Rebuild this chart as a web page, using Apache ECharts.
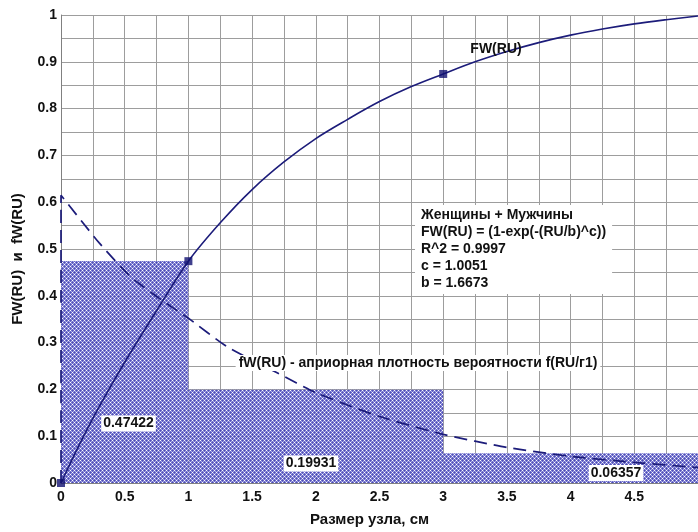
<!DOCTYPE html>
<html>
<head>
<meta charset="utf-8">
<script src="https://cdn.jsdelivr.net/npm/echarts@6/dist/echarts.min.js"></script>
<style>html,body{margin:0;padding:0;background:#fff}#c{width:698px;height:532px}</style>
</head>
<body>
<div id="c"></div>
<script>
// ---- data ----
const binStart  = [0, 1, 3];
const binEnd    = [1, 3, 5];
const binHeight = [0.47422, 0.19931, 0.06357];
const binLabels = ['0.47422', '0.19931', '0.06357'];

const fwX = [0, 0.15, 0.3, 0.5, 0.75, 1, 1.25, 1.5, 1.75, 2, 2.25, 2.5, 2.75, 3, 3.25, 3.5, 3.75, 4, 4.25, 4.5, 4.75, 5];
const fwY = [0, 0.085, 0.163, 0.258, 0.368, 0.474, 0.556, 0.627, 0.686, 0.736, 0.777, 0.815, 0.847, 0.874, 0.900, 0.922, 0.941, 0.957, 0.970, 0.981, 0.990, 0.998];

const fdX = [0, 0, 0.3, 0.55, 0.8, 1.0, 1.3, 1.7, 2.0, 2.5, 3.0, 3.5, 4.0, 4.5, 5.0];
const fdY = [0, 0.615, 0.513, 0.440, 0.389, 0.352, 0.292, 0.235, 0.193, 0.142, 0.104, 0.076, 0.057, 0.044, 0.033];

const markX = [0, 1, 3];
const markY = [0, 0.474, 0.874];

const xLabelTicks = [0, 0.5, 1, 1.5, 2, 2.5, 3, 3.5, 4, 4.5];
const yLabelTicks = [0, 0.1, 0.2, 0.3, 0.4, 0.5, 0.6, 0.7, 0.8, 0.9, 1];

// ---- hatch pattern ----
const tile = document.createElement('canvas');
tile.width = 4; tile.height = 4;
const tc = tile.getContext('2d');
for (let y = 0; y < 4; y++) for (let x = 0; x < 4; x++) {
  let c;
  if ((x === 0 && y === 0) || (x === 2 && y === 2)) c = '#ffffff';
  else if ((x === 2 && y === 0) || (x === 0 && y === 2)) c = '#3c3cae';
  else if ((x + y) % 2 === 1) c = '#5e5ec4';
  else c = '#a4a4e4';
  tc.fillStyle = c; tc.fillRect(x, y, 1, 1);
}
const hatch = { image: tile, repeat: 'repeat' };

const FONT = '"Liberation Sans", Arial, Helvetica, sans-serif';
const navy = '#1c1c7a';

const chart = echarts.init(document.getElementById('c'), null, { renderer: 'canvas' });

const binData = binStart.map((s, i) => [s, binEnd[i], binHeight[i]]);
const fwData = fwX.map((x, i) => [x, fwY[i]]);
const fdData = fdX.map((x, i) => [x, fdY[i]]);
const markData = markX.map((x, i) => [x, markY[i]]);

const gridStyle = { color: '#9d9d9d', width: 1 };

chart.setOption({
  animation: false,
  backgroundColor: '#fff',
  grid: { left: 61, top: 15, width: 640, height: 472, containLabel: false },
  xAxis: {
    type: 'value', min: 0, max: 5, interval: 0.5,
    name: 'Размер узла, см', nameLocation: 'middle', nameGap: 29,
    nameTextStyle: { fontFamily: FONT, fontWeight: 'bold', fontSize: 15, color: '#111', padding: [0, 20, 0, 0] },
    axisLine: { show: true, lineStyle: { color: '#808080', width: 1 } },
    axisTick: { show: false },
    axisLabel: {
      fontFamily: FONT, fontWeight: 'bold', fontSize: 14, color: '#111', margin: 7,
      showMaxLabel: false,
      formatter: v => (xLabelTicks.some(t => Math.abs(t - v) < 1e-9) ? String(+v.toFixed(2)) : '')
    },
    splitLine: { show: true, lineStyle: gridStyle },
    minorTick: { show: false, splitNumber: 2 },
    minorSplitLine: { show: true, lineStyle: gridStyle }
  },
  yAxis: {
    type: 'value', min: 0, max: 1, interval: 0.1,
    name: 'FW(RU)  и  fW(RU)', nameLocation: 'middle', nameGap: 36, nameRotate: 90,
    nameTextStyle: { fontFamily: FONT, fontWeight: 'bold', fontSize: 15, color: '#111', padding: [0, 20, 0, 0] },
    axisLine: { show: true, lineStyle: { color: '#808080', width: 1 } },
    axisTick: { show: false },
    axisLabel: {
      fontFamily: FONT, fontWeight: 'bold', fontSize: 14, color: '#111', margin: 4,
      formatter: v => (yLabelTicks.some(t => Math.abs(t - v) < 1e-9) ? String(+v.toFixed(2)) : '')
    },
    splitLine: { show: true, lineStyle: gridStyle },
    minorTick: { show: false, splitNumber: 2 },
    minorSplitLine: { show: true, lineStyle: gridStyle }
  },
  series: [
    {
      type: 'custom', name: 'hist', data: binData, clip: true,
      encode: { x: [0, 1], y: 2 },
      renderItem: (params, api) => {
        const p0 = api.coord([api.value(0), api.value(2)]);
        const p1 = api.coord([api.value(1), 0]);
        return {
          type: 'rect',
          shape: { x: p0[0], y: p0[1], width: p1[0] - p0[0], height: p1[1] - p0[1] },
          style: { fill: hatch, opacity: 0.9 }
        };
      },
      z: 1
    },
    {
      type: 'line', name: 'fW', data: fdData, smooth: 0.2, showSymbol: false, symbol: 'none',
      lineStyle: { color: navy, width: 1.7, type: [13, 7] }, z: 3
    },
    {
      type: 'line', name: 'FW', data: fwData, smooth: 0.35, showSymbol: false, symbol: 'none',
      lineStyle: { color: navy, width: 1.6 }, z: 4
    },
    {
      type: 'scatter', name: 'pts', data: markData, symbol: 'rect', symbolSize: 8,
      itemStyle: { color: '#101070' }, z: 5
    }
  ],
  graphic: [
    {
      type: 'text', z: 10, x: 496, y: 49,
      style: { text: 'FW(RU)', font: 'bold 14px ' + FONT, fill: '#111', align: 'center', verticalAlign: 'middle' }
    },
    {
      type: 'text', z: 10, x: 415, y: 205,
      style: {
        text: 'Женщины + Мужчины\nFW(RU) = (1-exp(-(RU/b)^c))\nR^2 = 0.9997\nc = 1.0051\nb = 1.6673',
        font: 'bold 14px ' + FONT, lineHeight: 17, fill: '#111', align: 'left', verticalAlign: 'top',
        backgroundColor: '#fff', padding: [2, 6, 2, 6]
      }
    },
    {
      type: 'text', z: 10, x: 418, y: 363,
      style: { text: 'fW(RU) - априорная плотность вероятности f(RU/г1)', font: 'bold 14px ' + FONT, fill: '#111',
               align: 'center', verticalAlign: 'middle', backgroundColor: '#fff', padding: [1, 3] }
    },
    {
      type: 'text', z: 10, x: 128.5, y: 423.5,
      style: { text: binLabels[0], font: 'bold 14px ' + FONT, fill: '#111', align: 'center', verticalAlign: 'middle',
               backgroundColor: '#fff', padding: [1, 2] }
    },
    {
      type: 'text', z: 10, x: 311, y: 463.5,
      style: { text: binLabels[1], font: 'bold 14px ' + FONT, fill: '#111', align: 'center', verticalAlign: 'middle',
               backgroundColor: '#fff', padding: [1, 2] }
    },
    {
      type: 'text', z: 10, x: 616, y: 473,
      style: { text: binLabels[2], font: 'bold 14px ' + FONT, fill: '#111', align: 'center', verticalAlign: 'middle',
               backgroundColor: '#fff', padding: [1, 2] }
    }
  ]
});
</script>
</body>
</html>
